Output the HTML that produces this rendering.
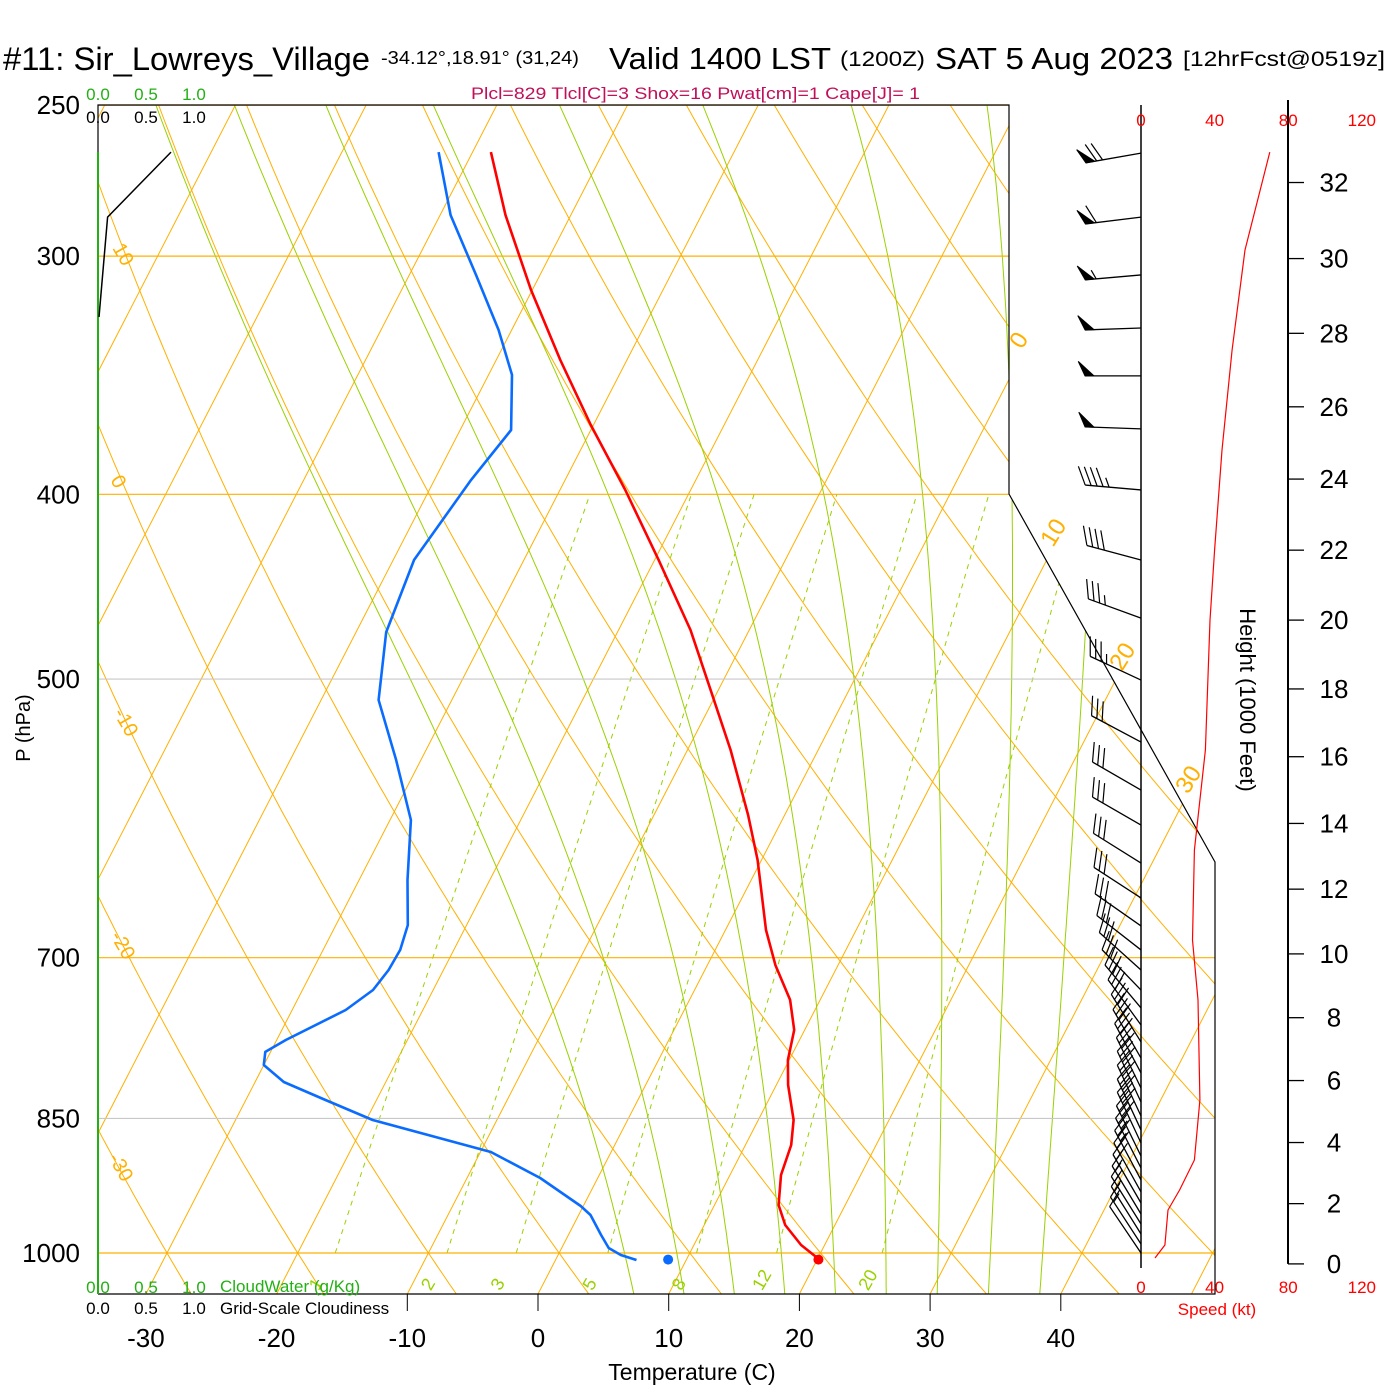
<!DOCTYPE html>
<html><head><meta charset="utf-8"><style>
html,body{margin:0;padding:0;background:#fff;}
svg{display:block;font-family:"Liberation Sans",Arial,sans-serif;}
</style></head><body>
<svg id="chart" width="1400" height="1400" viewBox="0 0 1400 1400" xmlns="http://www.w3.org/2000/svg">
<rect width="1400" height="1400" fill="#fff"/>
<defs><clipPath id="plotclip"><polygon points="98,105 1009,105 1009,494 1215,862 1215,1294 98,1294"/></clipPath></defs>
<g id="title">
<text x="3" y="70" font-size="32" textLength="367" lengthAdjust="spacingAndGlyphs">#11: Sir_Lowreys_Village</text>
<text x="381" y="64" font-size="18" textLength="198" lengthAdjust="spacingAndGlyphs">-34.12°,18.91° (31,24)</text>
<text x="609" y="69" font-size="31" textLength="222" lengthAdjust="spacingAndGlyphs">Valid 1400 LST</text>
<text x="840" y="66" font-size="21" textLength="85" lengthAdjust="spacingAndGlyphs">(1200Z)</text>
<text x="935" y="69" font-size="31" textLength="238" lengthAdjust="spacingAndGlyphs">SAT 5 Aug 2023</text>
<text x="1183" y="66" font-size="21" textLength="202" lengthAdjust="spacingAndGlyphs">[12hrFcst@0519z]</text>
</g>
<text x="471" y="99" font-size="17" fill="#c0105a" textLength="449" lengthAdjust="spacingAndGlyphs">Plcl=829 Tlcl[C]=3 Shox=16 Pwat[cm]=1 Cape[J]= 1</text>
<g id="grid" clip-path="url(#plotclip)"></g>
<g id="frame"></g>
<g id="series"></g>
<g id="labels"></g>
</svg>
<script>
// ---- data ----
const tempP=[264.6,285.5,312.5,340.1,367.9,397.9,433,471.2,506.6,544.7,589.2,622.1,677,706.3,736.6,763.9,792.1,816.4,851.6,877.7,910.1,943.7,966.8,990.4,1007.3];
const tempC=[-48.6,-45.0,-40.1,-35.1,-30.2,-25.0,-19.7,-14.5,-10.6,-6.7,-2.8,-0.3,3.1,5.2,7.7,9.2,9.9,10.9,12.7,13.5,13.9,14.9,16.2,18.2,20.1];
const dewP=[264.6,285.5,306.9,328,346.3,370.1,393.1,433,472.4,512.8,551.3,592.8,637.3,673,693.5,710.5,727.9,745.7,773.2,784.4,796.9,813.4,831.3,851.6,885.2,913.4,944.8,955.1,978.5,994,1002.4,1008.5];
const dewC=[-52.6,-49.2,-44.9,-41.0,-38.2,-36.1,-37.2,-38.4,-37.7,-35.6,-31.9,-28.4,-26.3,-24.5,-24.1,-24.2,-24.6,-25.9,-29.3,-30.4,-30.0,-27.8,-23.9,-19.5,-9.2,-4.4,-0.2,0.9,2.5,3.6,4.8,6.2];
const sfcP=1008, sfcT=20.1, sfcTd=8.6;
const speedP=[264.6,297.8,336,379.2,427.8,465.6,544.7,614.7,685.2,736.6,831.3,893.8,926.7,949.4,990.4,1006];
const speedKt=[70,56.5,49.5,44,40,37.5,35,29,28,31,32,29,21,14.7,13,7.6];
const barbP=[264.9,286.2,306.9,327.2,346.7,369.6,397.9,433.0,464.5,500.6,539.5,571.7,596.4,624.4,651.3,673.7,693.5,710.5,727.9,743.8,759.3,775.0,790.2,804.6,819.3,833.3,847.5,861.9,875.6,889.5,902.4,915.6,928.9,941.4,954.0,965.6,977.3,989.2,1000];
const barbDir=[260,263,265,268,270,272,275,285,290,295,298,300,300,302,303,305,308,312,316,320,324,328,330,332,334,335,335,335,335,334,333,332,331,330,329,328,328,327,326];
const barbKt=[70,62,57,52,50,50,45,40,35,33,32,30,30,30,30,30,28,28,30,30,30,30,30,30,30,30,30,30,30,29,27,23,21,18,15,15,14,13,8];
const cloudP=[322.9,286.2,264.6];
const cloudV=[0.01,0.1,0.76];
const tempTicks=[-30,-20,-10,0,10,20,30,40];
const presTicks=[250,300,400,500,700,850,1000];
const heightTicks=[0,2,4,6,8,10,12,14,16,18,20,22,24,26,28,30,32];
const speedTicks=[0,40,80,120];
const mixRatios=[1,2,3,5,8,12,20];

// ---- axes ----
const Y=p=>1253-828*Math.log(1000/p);
const X=(T,p)=>538+13.07*T+0.515*(1294-Y(p));
const SX=kt=>1141+1.84*kt;
const CX=v=>98+96*v;
const hToP=kft=>{const h=kft*304.8;return 1013.25*Math.pow(1-0.0065*h/288.15,5.2559);};
const NS="http://www.w3.org/2000/svg";
function mk(tag,attrs,parent){const e=document.createElementNS(NS,tag);for(const k in attrs)e.setAttribute(k,attrs[k]);parent.appendChild(e);return e;}
const grid=document.getElementById('grid'),frame=document.getElementById('frame'),series=document.getElementById('series'),labels=document.getElementById('labels');
const ORANGE="#ffb000",GREEN="#99d100";
function pathFrom(pts){return pts.map((q,i)=>(i?'L':'M')+q[0].toFixed(1)+','+q[1].toFixed(1)).join('');}
const levels=[];for(let p=1060;p>=245;p-=5)levels.push(p);

// isotherms
for(let T=-120;T<=50;T+=10){
  const e=mk('line',{x1:X(T,1060),y1:Y(1060),x2:X(T,240),y2:Y(240),stroke:ORANGE,'stroke-width':1},grid);
  
  
}
// dry adiabats
for(let th=-40;th<=180;th+=10){
  const pts=levels.map(p=>[X((th+273.15)*Math.pow(p/1000,0.2857)-273.15,p),Y(p)]);
  const e=mk('path',{d:pathFrom(pts),fill:'none',stroke:ORANGE,'stroke-width':1},grid);
  
  
}
// moist adiabats
function es(Tc){return 6.112*Math.exp(17.67*Tc/(Tc+243.5));}
function dTdp(Tk,p){const e=es(Tk-273.15);const rs=0.622*e/(p-e);return (287*Tk+2.5e6*rs)/(p*(1004+2.5e6*2.5e6*rs*0.622/(287*Tk*Tk)));}
for(let tw=5;tw<=37;tw+=4){
  let pts=[];let Tk=tw+273.15;
  for(let p=1000;p<=1060;p+=1){if(p>1000)Tk+=dTdp(Tk,p);}
  let T2=Tk;
  for(let p=1060;p>=240;p-=1){pts.push([X(T2-273.15,p),Y(p)]);T2-=dTdp(T2,p);}
  const e=mk('path',{d:pathFrom(pts.filter((q,i)=>i%5==0)),fill:'none',stroke:GREEN,'stroke-width':1},grid);
  
  
}
// mixing ratio lines
function tdFromW(w,p){const e=w*p/(622+w);const l=Math.log(e/6.112);return 243.5*l/(17.67-l);}
mixRatios.forEach(w=>{
  const pts=[];for(let p=1000;p>=400;p-=10)pts.push([X(tdFromW(w,p),p),Y(p)]);
  const e=mk('path',{d:pathFrom(pts),fill:'none',stroke:GREEN,'stroke-width':1,'stroke-dasharray':'5,5'},grid);
  
  
  const lp=1040;const t=mk('text',{x:X(tdFromW(w,lp),lp)-6,y:Y(lp)+6,'font-size':18,fill:GREEN,transform:`rotate(-60 ${X(tdFromW(w,lp),lp)-6} ${Y(lp)+6})`},grid);
  t.textContent=w;
  
  
});
// pressure horizontal lines
presTicks.forEach(p=>{
  const col=(p==500||p==850)?'#c8c8c8':ORANGE;
  const e=mk('line',{x1:98,y1:Y(p),x2:1220,y2:Y(p),stroke:col,'stroke-width':1.2},grid);
  
  
  const t=mk('text',{x:80,y:Y(p)+9,'font-size':26,'text-anchor':'end'},labels);
  t.textContent=p;
  
  
});
// frame
const fr=mk('polyline',{points:'98,152 98,105 1009,105 1009,494 1215,862 1215,1294 98,1294',fill:'none',stroke:'#000','stroke-width':1.2},frame);


const gl=mk('line',{x1:98,y1:152,x2:98,y2:1294,stroke:'#22b014','stroke-width':2},frame);


const st=mk('line',{x1:1141,y1:105,x2:1141,y2:1268,stroke:'#000','stroke-width':1.5},frame);


// temperature ticks at bottom
tempTicks.forEach(T=>{
  const x=538+13.07*T;
  if(T>=-10){const tk=mk('line',{x1:x,y1:1294,x2:x,y2:1311,stroke:'#000','stroke-width':1},frame);
  
  }
  const t=mk('text',{x:x,y:1347,'font-size':26,'text-anchor':'middle'},labels);
  t.textContent=T;
  
  
});
// height axis
const ha=mk('line',{x1:1288,y1:100,x2:1288,y2:Y(hToP(0)),stroke:'#000','stroke-width':2},frame);


heightTicks.forEach(h=>{
  const y=Y(hToP(h));
  const tk=mk('line',{x1:1288,y1:y,x2:1304,y2:y,stroke:'#000','stroke-width':1.3},frame);
  
  
  const t=mk('text',{x:1334,y:y+9,'font-size':26,'text-anchor':'middle'},labels);
  t.textContent=h;
  
  
});
// speed tick labels top & bottom
speedTicks.forEach(s=>{
  [126,1293].forEach(yy=>{
    const t=mk('text',{x:SX(s),y:yy,'font-size':17,'text-anchor':'middle',fill:'#ff0000'},labels);
    t.textContent=s;
    
    
  });
});
// cloud scale labels
[0,0.5,1].forEach(v=>{
  [[100,'#22b014'],[123,'#000'],[1293,'#22b014'],[1314,'#000']].forEach(([yy,c])=>{
    const t=mk('text',{x:CX(v),y:yy,'font-size':17,'text-anchor':'middle',fill:c},labels);
    t.textContent=v.toFixed(1);
    
    
  });
});
// grid labels (theta and isotherms)
[[10,112,248],[0,110,480],[-10,113,713],[-20,110,936],[-30,108,1158]].forEach(([v,x,y])=>{
  const t=mk('text',{x:x,y:y,'font-size':20,fill:ORANGE,transform:`rotate(60 ${x} ${y})`},labels);
  t.textContent=v;
  
  
});
[[0,1022,350],[10,1053,548],[20,1122,672],[30,1188,795]].forEach(([v,x,y])=>{
  const t=mk('text',{x:x,y:y,'font-size':24,fill:ORANGE,transform:`rotate(-58 ${x} ${y})`},labels);
  t.textContent=v;
  
  
});
// series: cloudiness
const cl=mk('path',{d:pathFrom(cloudP.map((p,i)=>[CX(cloudV[i]),Y(p)])),fill:'none',stroke:'#000','stroke-width':1.5},series);


// temperature
const tl=mk('path',{d:pathFrom(tempP.map((p,i)=>[X(tempC[i],p),Y(p)])),fill:'none',stroke:'#ff0000','stroke-width':2.6,'stroke-linejoin':'round'},series);


const dl=mk('path',{d:pathFrom(dewP.map((p,i)=>[X(dewC[i],p),Y(p)])),fill:'none',stroke:'#0a6cff','stroke-width':2.6,'stroke-linejoin':'round'},series);


const td=mk('circle',{cx:X(sfcT,sfcP),cy:Y(sfcP),r:5,fill:'#ff0000'},series);


const dd=mk('circle',{cx:X(sfcTd,sfcP),cy:Y(sfcP),r:5,fill:'#0a6cff'},series);


// speed profile
const sp=mk('path',{d:pathFrom(speedP.map((p,i)=>[SX(speedKt[i]),Y(p)])),fill:'none',stroke:'#ff0000','stroke-width':1.2},series);


// wind barbs
barbP.forEach((p,i)=>{
  const g=mk('g',{},series);
  
  
  const b=barbDir[i]*Math.PI/180,L=56;
  const ux=Math.sin(b),uy=-Math.cos(b);
  const x0=1141,y0=Y(p),tx=x0+ux*L,ty=y0+uy*L;
  mk('line',{x1:x0,y1:y0,x2:tx,y2:ty,stroke:'#000','stroke-width':1.3},g);
  const c=Math.cos(65*Math.PI/180),s=Math.sin(65*Math.PI/180);
  const fx=ux*c-uy*s,fy=ux*s+uy*c;
  let kt=Math.round(barbKt[i]/5)*5,pos=0;const F=20,SP=6;
  while(kt>=50){const ax=tx-ux*pos,ay=ty-uy*pos,bx=tx-ux*(pos+9),by=ty-uy*(pos+9);
    mk('polygon',{points:`${ax},${ay} ${ax+fx*F*0.8},${ay+fy*F*0.8} ${bx},${by}`,fill:'#000',stroke:'#000','stroke-width':1},g);pos+=11;kt-=50;}
  while(kt>=10){const ax=tx-ux*pos,ay=ty-uy*pos;mk('line',{x1:ax,y1:ay,x2:ax+fx*F,y2:ay+fy*F,stroke:'#000','stroke-width':1.2},g);pos+=SP;kt-=10;}
  if(kt>=5){if(pos==0)pos=SP;const ax=tx-ux*pos,ay=ty-uy*pos;mk('line',{x1:ax,y1:ay,x2:ax+fx*F/2,y2:ay+fy*F/2,stroke:'#000','stroke-width':1.2},g);}
});
</script>
<script>
const L2=document.getElementById('labels');
function T(x,y,txt,attrs){const e=document.createElementNS("http://www.w3.org/2000/svg",'text');e.setAttribute('x',x);e.setAttribute('y',y);for(const k in attrs)e.setAttribute(k,attrs[k]);e.textContent=txt;L2.appendChild(e);return e;}
let e;
e=T(220,1292,'CloudWater (g/Kg)',{'font-size':17,fill:'#22b014'});


e=T(220,1314,'Grid-Scale Cloudiness',{'font-size':17,fill:'#000'});


e=T(1217,1315,'Speed (kt)',{'font-size':17,fill:'#ff0000','text-anchor':'middle'});


e=T(692,1380,'Temperature (C)',{'font-size':23,'text-anchor':'middle'});


e=T(30,728,'P (hPa)',{'font-size':20,'text-anchor':'middle',transform:'rotate(-90 30 728)'});


e=T(1240,700,'Height (1000 Feet)',{'font-size':22,'text-anchor':'middle',transform:'rotate(90 1240 700)'});


</script>
</body></html>
